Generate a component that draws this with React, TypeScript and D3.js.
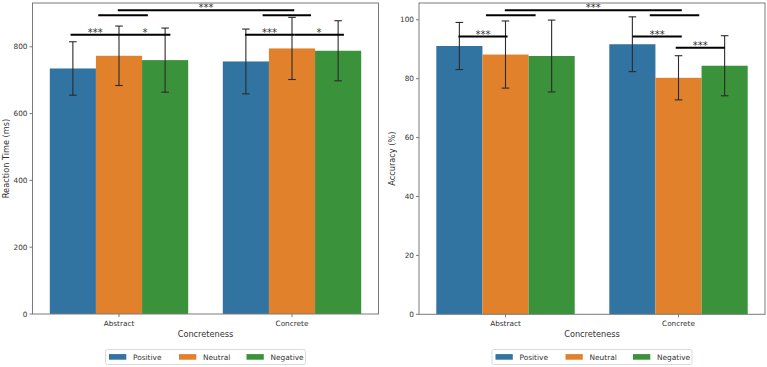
import React from "react";
import * as d3 from "d3";

const categories = ["Abstract", "Concrete"];
const conditions = ["Positive", "Neutral", "Negative"];
const colors = ["#3274a1", "#e1812c", "#3a923a"];

// Reaction time (ms)
const rtPositive = [735, 756];
const rtNeutral = [773, 795];
const rtNegative = [760, 788];
const rtErrPositive = [80, 97];
const rtErrNeutral = [89, 93];
const rtErrNegative = [96, 90];
const rtTicks = [0, 200, 400, 600, 800];

// Accuracy (%)
const accPositive = [91.1, 91.7];
const accNeutral = [88.2, 80.3];
const accNegative = [87.7, 84.4];
const accErrPositive = [8.0, 9.3];
const accErrNeutral = [11.4, 7.5];
const accErrNegative = [12.2, 10.2];
const accTicks = [0, 20, 40, 60, 80, 100];

// significance brackets: [x1, x2, y, label] in data units (x: category index)
const rtSig: [number, number, number, string][] = [
  [-0.28, 0.005, 836, "***"],
  [0.005, 0.297, 836, "*"],
  [0.728, 1.013, 836, "***"],
  [1.013, 1.3, 836, "*"],
  [-0.12, 0.167, 894, ""],
  [0.83, 1.11, 894, ""],
  [-0.007, 1.013, 909, "***"],
];
const accSig: [number, number, number, string][] = [
  [-0.272, 0.012, 94.3, "***"],
  [-0.113, 0.174, 101.5, ""],
  [0.834, 1.12, 101.5, ""],
  [-0.004, 1.019, 103.2, "***"],
  [0.734, 1.019, 94.3, "***"],
  [0.984, 1.268, 90.5, "***"],
];

const FONT = "DejaVu Sans";

type PanelProps = {
  x0: number;
  x1: number;
  y0: number;
  y1: number;
  ymax: number;
  ticks: number[];
  means: number[][];
  errs: number[][];
  sig: [number, number, number, string][];
  ylabel: string;
};

function Panel({ x0, x1, y0, y1, ymax, ticks, means, errs, sig, ylabel }: PanelProps) {
  const xLin = d3.scaleLinear().domain([-0.5, 1.5]).range([x0, x1]);
  const y = d3.scaleLinear().domain([0, ymax]).range([y1, y0]);
  const bandW = 0.8 / conditions.length;
  const bars: React.ReactNode[] = [];
  const errBars: React.ReactNode[] = [];
  categories.forEach((c, ci) => {
    conditions.forEach((cond, si) => {
      const left = ci - 0.4 + si * bandW;
      const xa = xLin(left);
      const xb = xLin(left + bandW);
      const v = means[si][ci];
      const e = errs[si][ci];
      bars.push(
        <rect key={`b${ci}${si}`} x={xa} y={y(v)} width={xb - xa} height={y(0) - y(v)} fill={colors[si]} />
      );
      const xc = (xa + xb) / 2;
      errBars.push(
        <g key={`e${ci}${si}`} stroke="#2b2b2b" strokeWidth={1.1}>
          <line x1={xc} x2={xc} y1={y(v - e)} y2={y(v + e)} />
          <line x1={xc - 3.8} x2={xc + 3.8} y1={y(v - e)} y2={y(v - e)} />
          <line x1={xc - 3.8} x2={xc + 3.8} y1={y(v + e)} y2={y(v + e)} />
        </g>
      );
    });
  });
  const axisColor = "#7a7a7a";
  const textColor = "#333";
  const midX = (x0 + x1) / 2;
  const midY = (y0 + y1) / 2;
  return (
    <g>
      {bars}
      {errBars}
      {sig.map(([a, b, yy, lab], i) => (
        <g key={`s${i}`}>
          <line x1={xLin(a)} x2={xLin(b)} y1={y(yy)} y2={y(yy)} stroke="#000" strokeWidth={2} />
          {lab && (
            <text x={(xLin(a) + xLin(b)) / 2} y={y(yy) + 1} textAnchor="middle" fontFamily={FONT} fontSize={10} fill="#333">
              {lab}
            </text>
          )}
        </g>
      ))}
      <rect x={x0} y={y0} width={x1 - x0} height={y1 - y0} fill="none" stroke={axisColor} strokeWidth={1} />
      {ticks.map((t) => (
        <g key={`t${t}`}>
          <line x1={x0 - 3} x2={x0} y1={y(t)} y2={y(t)} stroke={axisColor} strokeWidth={1} />
          <text x={x0 - 5} y={y(t)} dy="0.35em" textAnchor="end" fontFamily={FONT} fontSize={7.3} fill={textColor}>
            {t}
          </text>
        </g>
      ))}
      {categories.map((c, ci) => (
        <g key={`x${ci}`}>
          <line x1={xLin(ci)} x2={xLin(ci)} y1={y1} y2={y1 + 3} stroke={axisColor} strokeWidth={1} />
          <text x={xLin(ci)} y={y1 + 12} textAnchor="middle" fontFamily={FONT} fontSize={7.3} fill={textColor}>
            {c}
          </text>
        </g>
      ))}
      <text x={midX} y={y1 + 23} textAnchor="middle" fontFamily={FONT} fontSize={8.2} fill={textColor}>
        Concreteness
      </text>
      <text
        transform={`translate(${x0 - 24},${midY}) rotate(-90)`}
        textAnchor="middle"
        fontFamily={FONT}
        fontSize={8.2}
        fill={textColor}
      >
        {ylabel}
      </text>
      <Legend cx={midX} y={349.5} />
    </g>
  );
}

function Legend({ cx, y }: { cx: number; y: number }) {
  const w = 200;
  const left = cx - w / 2;
  const offs = [3.5, 73.5, 141];
  return (
    <g>
      <rect x={left} y={y} width={w} height={15} rx={2} fill="#fff" stroke="#d0d0d0" strokeWidth={0.8} />
      {conditions.map((c, i) => (
        <g key={c}>
          <rect x={left + offs[i]} y={y + 4.6} width={17.3} height={5.6} fill={colors[i]} />
          <text x={left + offs[i] + 24} y={y + 10.3} fontFamily={FONT} fontSize={7.4} fill="#333">
            {c}
          </text>
        </g>
      ))}
    </g>
  );
}

export default function App() {
  return (
    <svg width={767} height={367} style={{ position: "absolute", left: 0, top: 0, background: "#fff" }}>
      <rect width={767} height={367} fill="#fff" />
      <Panel
        x0={32.5}
        x1={378.5}
        y0={3}
        y1={314}
        ymax={931}
        ticks={rtTicks}
        means={[rtPositive, rtNeutral, rtNegative]}
        errs={[rtErrPositive, rtErrNeutral, rtErrNegative]}
        sig={rtSig}
        ylabel="Reaction Time (ms)"
      />
      <Panel
        x0={419}
        x1={765}
        y0={3}
        y1={314.3}
        ymax={105.7}
        ticks={accTicks}
        means={[accPositive, accNeutral, accNegative]}
        errs={[accErrPositive, accErrNeutral, accErrNegative]}
        sig={accSig}
        ylabel="Accuracy (%)"
      />
    </svg>
  );
}
